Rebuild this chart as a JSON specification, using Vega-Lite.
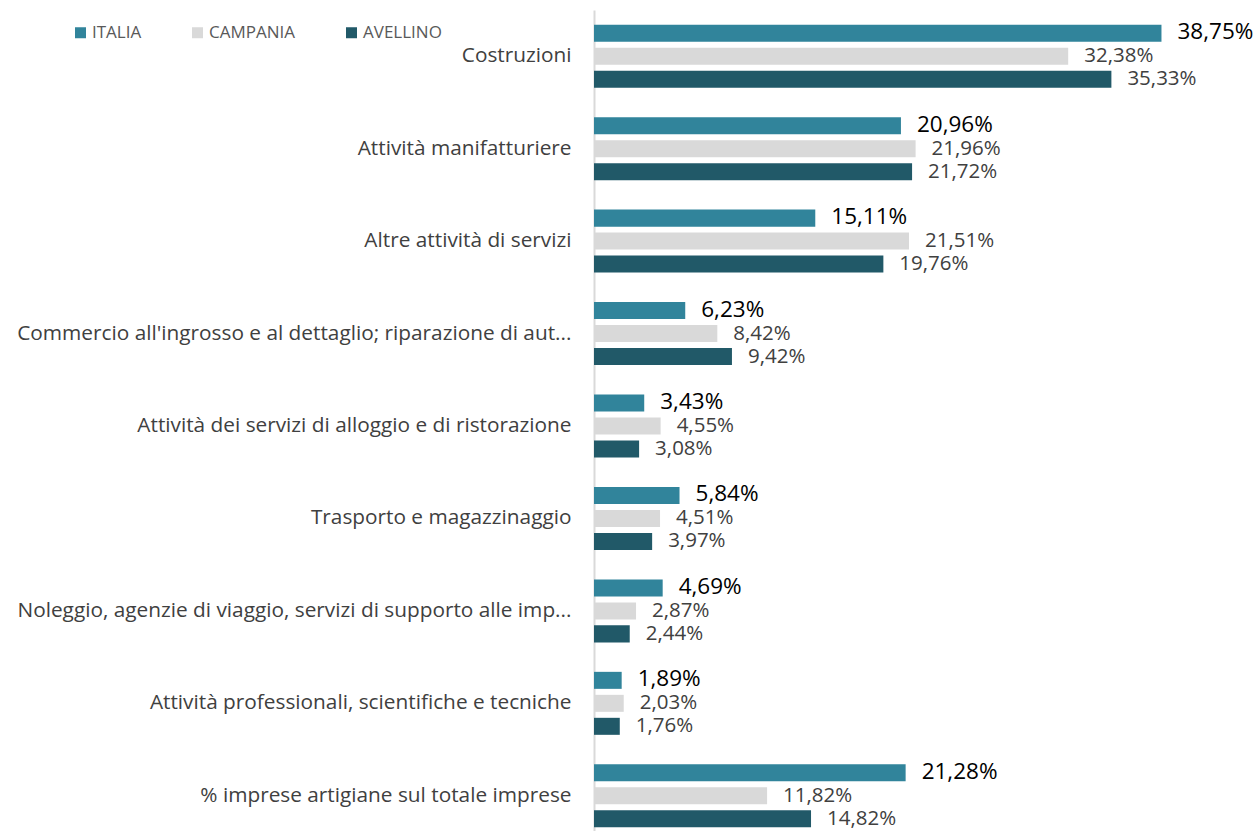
{
  "$schema": "https://vega.github.io/schema/vega-lite/v6.json",
  "autosize": {"type": "none"},
  "padding": {"left": 594, "top": 10, "right": 0, "bottom": 0},
  "width": 659,
  "height": 832,
  "background": "white",
  "config": {
    "view": {"stroke": null},
    "font": "Open Sans",
    "locale": {"number": {"decimal": ",", "thousands": ".", "grouping": [3], "currency": ["€", ""]}}
  },
  "data": {"values": [
    {"category": "Costruzioni", "series": "ITALIA", "value": 0.3875},
    {"category": "Costruzioni", "series": "CAMPANIA", "value": 0.3238},
    {"category": "Costruzioni", "series": "AVELLINO", "value": 0.3533},
    {"category": "Attività manifatturiere", "series": "ITALIA", "value": 0.2096},
    {"category": "Attività manifatturiere", "series": "CAMPANIA", "value": 0.2196},
    {"category": "Attività manifatturiere", "series": "AVELLINO", "value": 0.2172},
    {"category": "Altre attività di servizi", "series": "ITALIA", "value": 0.1511},
    {"category": "Altre attività di servizi", "series": "CAMPANIA", "value": 0.2151},
    {"category": "Altre attività di servizi", "series": "AVELLINO", "value": 0.1976},
    {"category": "Commercio all'ingrosso e al dettaglio; riparazione di aut...", "series": "ITALIA", "value": 0.0623},
    {"category": "Commercio all'ingrosso e al dettaglio; riparazione di aut...", "series": "CAMPANIA", "value": 0.0842},
    {"category": "Commercio all'ingrosso e al dettaglio; riparazione di aut...", "series": "AVELLINO", "value": 0.0942},
    {"category": "Attività dei servizi di alloggio e di ristorazione", "series": "ITALIA", "value": 0.0343},
    {"category": "Attività dei servizi di alloggio e di ristorazione", "series": "CAMPANIA", "value": 0.0455},
    {"category": "Attività dei servizi di alloggio e di ristorazione", "series": "AVELLINO", "value": 0.0308},
    {"category": "Trasporto e magazzinaggio", "series": "ITALIA", "value": 0.0584},
    {"category": "Trasporto e magazzinaggio", "series": "CAMPANIA", "value": 0.0451},
    {"category": "Trasporto e magazzinaggio", "series": "AVELLINO", "value": 0.0397},
    {"category": "Noleggio, agenzie di viaggio, servizi di supporto alle imp...", "series": "ITALIA", "value": 0.0469},
    {"category": "Noleggio, agenzie di viaggio, servizi di supporto alle imp...", "series": "CAMPANIA", "value": 0.0287},
    {"category": "Noleggio, agenzie di viaggio, servizi di supporto alle imp...", "series": "AVELLINO", "value": 0.0244},
    {"category": "Attività professionali, scientifiche e tecniche", "series": "ITALIA", "value": 0.0189},
    {"category": "Attività professionali, scientifiche e tecniche", "series": "CAMPANIA", "value": 0.0203},
    {"category": "Attività professionali, scientifiche e tecniche", "series": "AVELLINO", "value": 0.0176},
    {"category": "% imprese artigiane sul totale imprese", "series": "ITALIA", "value": 0.2128},
    {"category": "% imprese artigiane sul totale imprese", "series": "CAMPANIA", "value": 0.1182},
    {"category": "% imprese artigiane sul totale imprese", "series": "AVELLINO", "value": 0.1482}
  ]},
  "encoding": {
    "y": {
      "field": "category", "type": "nominal", "sort": null,
      "scale": {"paddingInner": 0.254, "paddingOuter": 0.127},
      "axis": {
        "title": null, "ticks": false, "domain": true, "domainColor": "#d9d9d9", "domainWidth": 2,
        "labelFontSize": 20.8, "labelColor": "#404040", "labelPadding": 23, "labelLimit": 0, "labelFont": "Open Sans"
      }
    },
    "yOffset": {
      "field": "series", "type": "nominal",
      "sort": ["ITALIA", "CAMPANIA", "AVELLINO"],
      "scale": {"domain": ["ITALIA", "CAMPANIA", "AVELLINO"], "paddingInner": 0.26, "paddingOuter": 0.13}
    },
    "x": {
      "field": "value", "type": "quantitative",
      "scale": {"domain": [0, 0.45], "nice": false},
      "axis": null
    }
  },
  "layer": [
    {
      "mark": {"type": "bar"},
      "encoding": {
        "color": {
          "field": "series", "type": "nominal",
          "scale": {"domain": ["ITALIA", "CAMPANIA", "AVELLINO"], "range": ["#31849b", "#d9d9d9", "#215968"]},
          "legend": {
            "title": null, "orient": "none", "direction": "horizontal",
            "legendX": -522, "legendY": 14,
            "symbolType": "square", "symbolSize": 121, "symbolStrokeWidth": 0,
            "labelFontSize": 17, "labelColor": "#595959", "labelFont": "Open Sans",
            "columnPadding": 47, "labelOffset": 3
          }
        }
      }
    },
    {
      "transform": [{"filter": "datum.series === 'ITALIA'"}],
      "mark": {"type": "text", "align": "left", "baseline": "middle", "dx": 16, "dy": -1, "fontSize": 22.5, "color": "#000000", "font": "Open Sans"},
      "encoding": {"text": {"field": "value", "type": "quantitative", "format": ".2%"}}
    },
    {
      "transform": [{"filter": "datum.series !== 'ITALIA'"}],
      "mark": {"type": "text", "align": "left", "baseline": "middle", "dx": 16, "fontSize": 20.5, "color": "#404040", "font": "Open Sans"},
      "encoding": {"text": {"field": "value", "type": "quantitative", "format": ".2%"}}
    }
  ]
}
